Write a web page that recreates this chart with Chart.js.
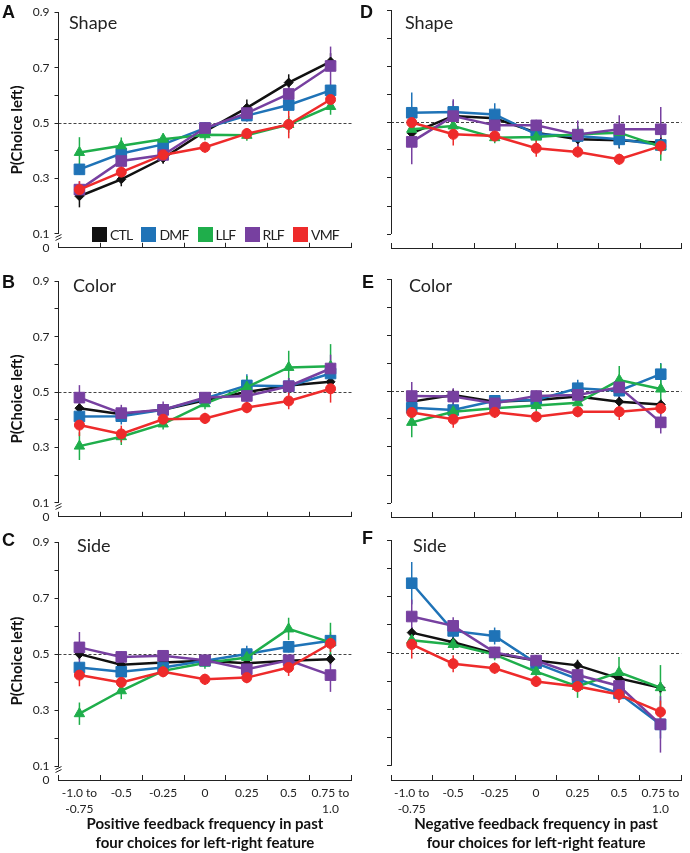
<!DOCTYPE html>
<html>
<head>
<meta charset="utf-8">
<script src="https://cdn.jsdelivr.net/npm/chart.js@4.4.0/dist/chart.umd.min.js"></script>
<style>
  html, body { margin: 0; padding: 0; background: #fff; }
  body { width: 690px; height: 853px; position: relative; overflow: hidden; font-family: Lato, "Open Sans", sans-serif; color: #222; }
  .panel { position: absolute; }
  .letter { position: absolute; font: bold 18px "Liberation Sans", Arial, sans-serif; line-height: 18px; color: #111; }
  .title { position: absolute; font: 18px Lato, sans-serif; line-height: 18px; color: #222; }
  #legend { position: absolute; left: 92px; top: 226px; display: flex; align-items: center; font: 14px Lato, sans-serif; letter-spacing: -0.8px; color: #222; }
  #legend .item { display: flex; align-items: center; margin-right: 9px; }
  #legend .sw { width: 15px; height: 15px; margin-right: 3px; }
</style>
</head>
<body>

<div class="panel" style="left:0;top:0"><canvas id="pA" width="360" height="260"></canvas></div>
<div class="panel" style="left:345px;top:0"><canvas id="pD" width="345" height="260"></canvas></div>
<div class="panel" style="left:0;top:269px"><canvas id="pB" width="360" height="260"></canvas></div>
<div class="panel" style="left:345px;top:269px"><canvas id="pE" width="345" height="260"></canvas></div>
<div class="panel" style="left:0;top:530px"><canvas id="pC" width="360" height="323"></canvas></div>
<div class="panel" style="left:345px;top:530px"><canvas id="pF" width="345" height="323"></canvas></div>

<div class="letter" style="left:2px;top:3px">A</div>
<div class="letter" style="left:2px;top:273px">B</div>
<div class="letter" style="left:2px;top:531px">C</div>
<div class="letter" style="left:360px;top:3px">D</div>
<div class="letter" style="left:362px;top:273px">E</div>
<div class="letter" style="left:362px;top:529px">F</div>

<div class="title" style="left:69px;top:13px">Shape</div>
<div class="title" style="left:405px;top:13px">Shape</div>
<div class="title" style="left:73px;top:276px">Color</div>
<div class="title" style="left:409px;top:276px">Color</div>
<div class="title" style="left:77px;top:536px">Side</div>
<div class="title" style="left:413px;top:536px">Side</div>

<div id="legend"></div>

<script>
// x categories: feedback frequency in the past four choices
const categories = [['-1.0 to', '-0.75'], '-0.5', '-0.25', '0', '0.25', '0.5', ['0.75 to', '1.0']];
const groups = ['CTL', 'DMF', 'LLF', 'RLF', 'VMF'];
const yTicks = [0.05, 0.1, 0.2, 0.3, 0.4, 0.5, 0.6, 0.7, 0.8, 0.9];
const chanceLevel = 0.5;

// P(choice left), one row per group (CTL, DMF, LLF, RLF, VMF)
const shapePos = [
  [0.236, 0.297, 0.373, 0.470, 0.555, 0.646, 0.722],
  [0.333, 0.390, 0.423, 0.482, 0.527, 0.565, 0.618],
  [0.394, 0.418, 0.442, 0.458, 0.456, 0.495, 0.560],
  [0.260, 0.363, 0.385, 0.482, 0.536, 0.605, 0.706],
  [0.260, 0.323, 0.385, 0.413, 0.462, 0.495, 0.585]
];
const shapePosErr = [
  [0.040, 0.025, 0.020, 0.020, 0.030, 0.030, 0.030],
  [0.020, 0.020, 0.020, 0.020, 0.020, 0.020, 0.020],
  [0.055, 0.030, 0.020, 0.020, 0.020, 0.030, 0.030],
  [0.030, 0.030, 0.020, 0.020, 0.030, 0.030, 0.070],
  [0.030, 0.020, 0.020, 0.020, 0.020, 0.050, 0.030]
];
const colorPos = [
  [0.442, 0.420, 0.436, 0.470, 0.500, 0.524, 0.537],
  [0.412, 0.413, 0.436, 0.477, 0.524, 0.521, 0.567],
  [0.305, 0.339, 0.385, 0.458, 0.518, 0.589, 0.593],
  [0.480, 0.424, 0.436, 0.480, 0.486, 0.521, 0.585],
  [0.381, 0.349, 0.402, 0.405, 0.444, 0.468, 0.512]
];
const colorPosErr = [
  [0.020, 0.020, 0.020, 0.020, 0.020, 0.020, 0.020],
  [0.030, 0.030, 0.020, 0.020, 0.040, 0.030, 0.040],
  [0.050, 0.030, 0.020, 0.020, 0.040, 0.060, 0.080],
  [0.045, 0.030, 0.030, 0.020, 0.030, 0.030, 0.050],
  [0.040, 0.030, 0.020, 0.020, 0.020, 0.030, 0.050]
];
const sidePos = [
  [0.500, 0.462, 0.470, 0.476, 0.467, 0.476, 0.482],
  [0.452, 0.437, 0.452, 0.476, 0.500, 0.526, 0.548],
  [0.287, 0.369, 0.440, 0.468, 0.488, 0.590, 0.542],
  [0.524, 0.490, 0.494, 0.478, 0.446, 0.478, 0.425],
  [0.425, 0.399, 0.437, 0.410, 0.416, 0.452, 0.538]
];
const sidePosErr = [
  [0.020, 0.020, 0.020, 0.020, 0.020, 0.020, 0.020],
  [0.020, 0.020, 0.020, 0.020, 0.030, 0.020, 0.030],
  [0.040, 0.030, 0.020, 0.020, 0.020, 0.040, 0.070],
  [0.055, 0.020, 0.020, 0.020, 0.020, 0.020, 0.060],
  [0.040, 0.020, 0.020, 0.020, 0.020, 0.030, 0.030]
];
const shapeNeg = [
  [0.460, 0.521, 0.513, 0.462, 0.438, 0.435, 0.426],
  [0.533, 0.536, 0.527, 0.456, 0.450, 0.438, 0.418],
  [0.474, 0.486, 0.444, 0.446, 0.456, 0.462, 0.412],
  [0.429, 0.521, 0.488, 0.488, 0.455, 0.474, 0.474],
  [0.498, 0.456, 0.450, 0.406, 0.393, 0.367, 0.414]
];
const shapeNegErr = [
  [0.030, 0.030, 0.030, 0.020, 0.030, 0.030, 0.020],
  [0.072, 0.040, 0.040, 0.020, 0.030, 0.030, 0.030],
  [0.040, 0.030, 0.020, 0.020, 0.030, 0.030, 0.050],
  [0.080, 0.060, 0.030, 0.020, 0.050, 0.050, 0.080],
  [0.020, 0.040, 0.020, 0.030, 0.020, 0.020, 0.030]
];
const colorNeg = [
  [0.462, 0.486, 0.462, 0.468, 0.480, 0.462, 0.452],
  [0.440, 0.432, 0.465, 0.468, 0.510, 0.501, 0.560],
  [0.388, 0.426, 0.438, 0.448, 0.458, 0.539, 0.507],
  [0.482, 0.480, 0.456, 0.482, 0.486, 0.513, 0.388],
  [0.423, 0.399, 0.424, 0.408, 0.426, 0.426, 0.438]
];
const colorNegErr = [
  [0.030, 0.020, 0.020, 0.020, 0.020, 0.020, 0.020],
  [0.030, 0.030, 0.020, 0.030, 0.030, 0.030, 0.040],
  [0.053, 0.030, 0.020, 0.020, 0.020, 0.050, 0.090],
  [0.050, 0.030, 0.020, 0.020, 0.020, 0.040, 0.040],
  [0.020, 0.030, 0.020, 0.020, 0.020, 0.030, 0.020]
];
const sideNeg = [
  [0.572, 0.538, 0.498, 0.473, 0.456, 0.410, 0.377],
  [0.747, 0.578, 0.560, 0.464, 0.407, 0.357, 0.247],
  [0.545, 0.530, 0.494, 0.434, 0.381, 0.431, 0.377],
  [0.629, 0.596, 0.502, 0.473, 0.422, 0.383, 0.247],
  [0.530, 0.462, 0.446, 0.399, 0.381, 0.353, 0.291]
];
const sideNegErr = [
  [0.020, 0.020, 0.020, 0.020, 0.020, 0.020, 0.020],
  [0.075, 0.030, 0.030, 0.020, 0.020, 0.020, 0.050],
  [0.030, 0.020, 0.020, 0.020, 0.040, 0.055, 0.080],
  [0.060, 0.030, 0.020, 0.020, 0.020, 0.020, 0.100],
  [0.050, 0.030, 0.020, 0.020, 0.020, 0.030, 0.040]
];

// styles
const groupColors = ['#111111', '#1f73b7', '#1fae4b', '#7740a0', '#ee2b2b'];
const groupMarkers = ['rectRot', 'rect', 'triangle', 'rect', 'circle'];
const markerRadius = [4.5, 7.5, 6, 7.5, 5];
const axisColor = '#222';
const fontFamily = 'Lato, "Open Sans", sans-serif';

// legend (inside panel A)
const legendEl = document.getElementById('legend');
groups.forEach((g, i) => {
  const item = document.createElement('div');
  item.className = 'item';
  item.innerHTML = `<span class="sw" style="background:${groupColors[i]}"></span><span>${g}</span>`;
  legendEl.appendChild(item);
});

// dashed chance line, error bars, broken y axis
const panelDecor = {
  id: 'panelDecor',
  beforeDatasetsDraw(chart) {
    const { ctx, chartArea: a, scales: { y } } = chart;
    ctx.save();
    const yc = Math.round(y.getPixelForValue(chanceLevel)) + 0.5;
    ctx.strokeStyle = '#444';
    ctx.lineWidth = 1;
    ctx.setLineDash([3, 2]);
    ctx.beginPath();
    ctx.moveTo(a.left, yc);
    ctx.lineTo(a.right, yc);
    ctx.stroke();
    ctx.setLineDash([]);

    chart.data.datasets.forEach((ds, i) => {
      const meta = chart.getDatasetMeta(i);
      ctx.strokeStyle = ds.borderColor;
      ctx.lineWidth = 1.5;
      meta.data.forEach((pt, j) => {
        const v = ds.data[j], e = ds.errors[j];
        ctx.beginPath();
        ctx.moveTo(pt.x, y.getPixelForValue(v - e));
        ctx.lineTo(pt.x, y.getPixelForValue(v + e));
        ctx.stroke();
      });
    });
    ctx.restore();
  },
  afterDraw(chart, args, opts) {
    const { ctx, chartArea: a, scales: { y } } = chart;
    const x = Math.floor(a.left) + 0.5;
    const yTop = y.getPixelForValue(0.9);
    const yLow = y.getPixelForValue(0.1);
    ctx.save();
    ctx.strokeStyle = axisColor;
    ctx.lineWidth = 1;
    ctx.beginPath();
    ctx.moveTo(x, yTop);
    ctx.lineTo(x, yLow);
    ctx.stroke();
    if (opts.breakMark) {
      for (const k of [2, 5]) {
        ctx.beginPath();
        ctx.moveTo(x - 3, yLow + k + 1.5);
        ctx.lineTo(x + 3, yLow + k - 1.5);
        ctx.stroke();
      }
    }
    ctx.restore();
  }
};

function yLabel(v) {
  if (v < 0.1 - 1e-6) return '0';
  const t = Math.round(v * 10);
  return t % 2 === 1 ? (t / 10).toFixed(1) : '';
}

function makePanel(id, means, errs, isLeft, isBottom, xTitle) {
  const datasets = groups.map((g, i) => ({
    label: g,
    data: means[i],
    errors: errs[i],
    borderColor: groupColors[i],
    backgroundColor: groupColors[i],
    borderWidth: 2.5,
    pointStyle: groupMarkers[i],
    pointRadius: markerRadius[i],
    pointBorderWidth: 1,
    tension: 0,
    order: groups.length - 1 - i
  }));

  new Chart(document.getElementById(id), {
    type: 'line',
    data: { labels: categories, datasets },
    options: {
      responsive: false,
      animation: false,
      layout: { padding: { top: 10, right: isLeft ? 5.5 : 1.5, left: 0, bottom: 0 } },
      plugins: {
        legend: { display: false },
        tooltip: { enabled: false },
        panelDecor: { breakMark: isLeft }
      },
      scales: {
        x: {
          type: 'category',
          offset: true,
          grid: { offset: true, drawOnChartArea: false, drawTicks: true, tickLength: -5, color: axisColor },
          border: { display: true, color: axisColor, width: 1 },
          ticks: {
            display: isBottom,
            autoSkip: false,
            maxRotation: 0,
            padding: 10,
            color: '#222',
            font: { family: fontFamily, size: 12, lineHeight: 16 / 12 }
          },
          title: {
            display: isBottom,
            text: xTitle,
            color: '#111',
            font: { family: fontFamily, size: 15, weight: 'bold', lineHeight: 19 / 15 },
            padding: { top: 0, bottom: 0 }
          },
          afterFit: s => { s.height = isBottom ? 73 : 12; }
        },
        y: {
          min: yTicks[0],
          max: yTicks[yTicks.length - 1],
          afterBuildTicks: s => { s.ticks = yTicks.map(v => ({ value: v })); },
          grid: {
            drawOnChartArea: false,
            drawTicks: true,
            tickLength: 4,
            color: c => (c.tick && c.tick.value < 0.1 - 1e-6) ? 'rgba(0,0,0,0)' : axisColor
          },
          border: { display: false },
          ticks: {
            display: isLeft,
            autoSkip: false,
            padding: 5,
            color: '#222',
            font: { family: fontFamily, size: 12 },
            callback: v => yLabel(v)
          },
          title: {
            display: isLeft,
            text: 'P(Choice left)',
            color: '#111',
            font: { family: fontFamily, size: 15, weight: 'bold', lineHeight: 18 / 15 },
            padding: { top: 8, bottom: 0 }
          },
          afterFit: s => { s.width = isLeft ? 58.5 : 46; }
        }
      }
    },
    plugins: [panelDecor]
  });
}

const posTitle = ['Positive feedback frequency in past', 'four choices for left-right feature'];
const negTitle = ['Negative feedback frequency in past', 'four choices for left-right feature'];

makePanel('pA', shapePos, shapePosErr, true, false, posTitle);
makePanel('pB', colorPos, colorPosErr, true, false, posTitle);
makePanel('pC', sidePos, sidePosErr, true, true, posTitle);
makePanel('pD', shapeNeg, shapeNegErr, false, false, negTitle);
makePanel('pE', colorNeg, colorNegErr, false, false, negTitle);
makePanel('pF', sideNeg, sideNegErr, false, true, negTitle);
</script>
</body>
</html>
